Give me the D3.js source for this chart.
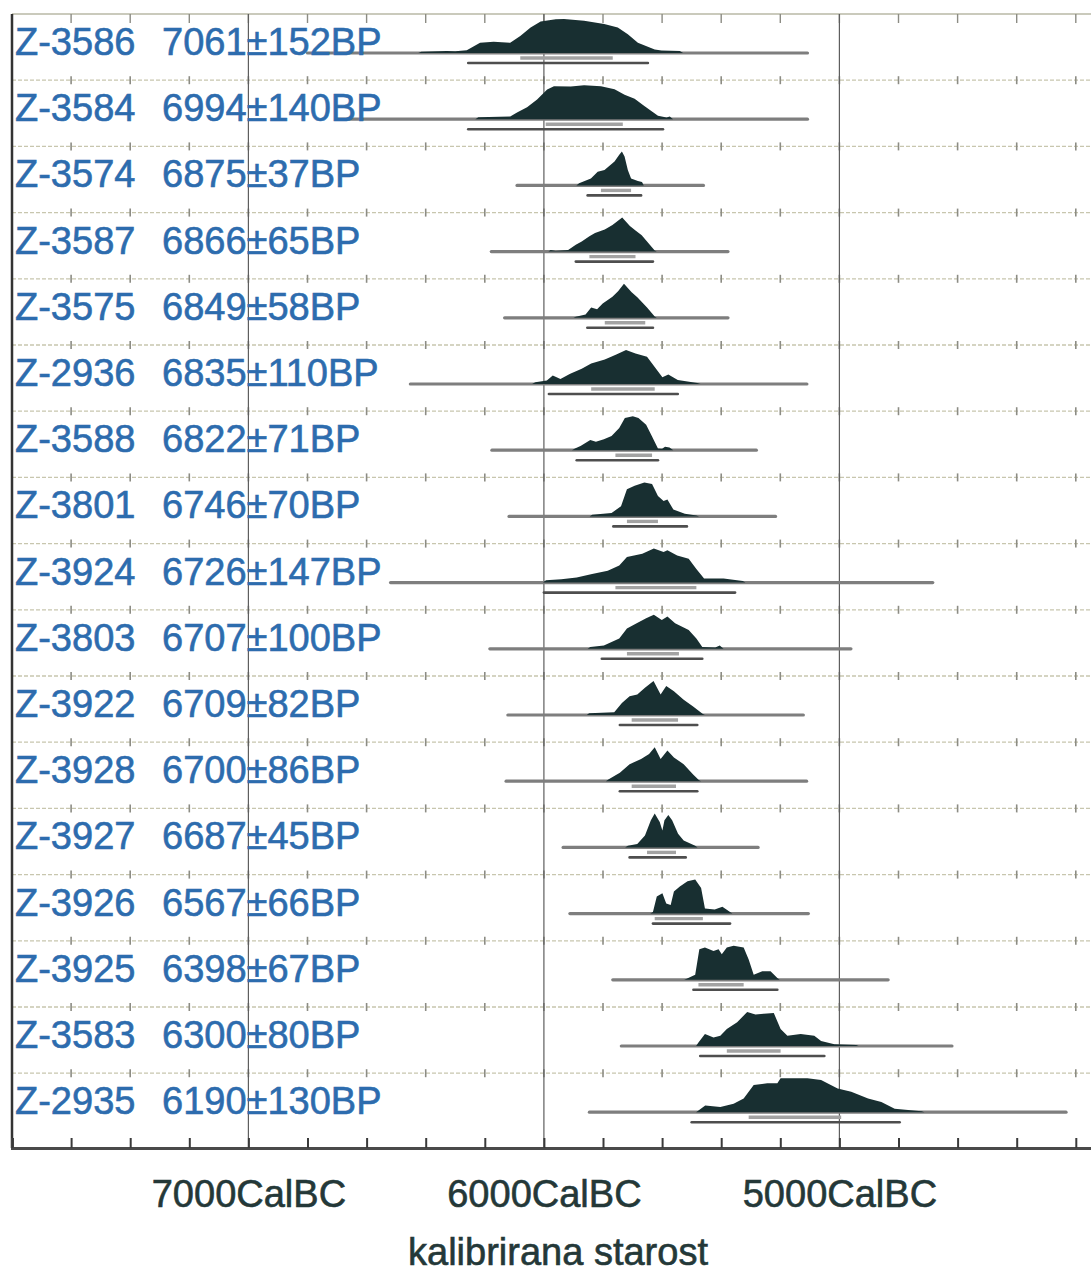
<!DOCTYPE html>
<html>
<head>
<meta charset="utf-8">
<script src="https://cdn.jsdelivr.net/npm/d3@7"></script>
<style>
  body { margin: 0; background: #fff; }
  svg { display: block; font-family: "Liberation Sans", Arial, sans-serif; }
</style>
</head>
<body>
<script>
// sample ids and radiocarbon ages
const labIds = ["Z-3586","Z-3584","Z-3574","Z-3587","Z-3575","Z-2936","Z-3588","Z-3801","Z-3924",
                "Z-3803","Z-3922","Z-3928","Z-3927","Z-3926","Z-3925","Z-3583","Z-2935"];
const bpAges = [7061,6994,6875,6866,6849,6835,6822,6746,6726,6707,6709,6700,6687,6567,6398,6300,6190];
const bpErrors = [152,140,37,65,58,110,71,70,147,100,82,86,45,66,67,80,130];

// full extent of the calibrated baseline (cal BC)
const plotSpans = [[6800,5108],[6702,5108],[6091,5460],[6178,5377],[6133,5377],[6452,5110],[6176,5281],
                   [6118,5216],[6519,4684],[6183,4961],[6122,5122],[6128,5111],[5935,5275],[5912,5105],
                   [5767,4835],[5738,4619],[5846,4233]];
// 68.2% and 95.4% ranges (cal BC)
const range68 = [[6080,5767],[5994,5733],[5807,5705],[5846,5690],[5794,5657],[5840,5625],[5758,5634],
                 [5719,5614],[5758,5484],[5719,5543],[5703,5546],[5703,5553],[5651,5553],[5625,5462],
                 [5477,5324],[5381,5199],[5307,4994]];
const range95 = [[6256,5648],[6256,5597],[5852,5671],[5892,5631],[5853,5631],[5983,5547],[5889,5614],
                 [5765,5516],[6000,5353],[5804,5464],[5743,5481],[5743,5481],[5710,5520],[5631,5370],
                 [5494,5210],[5471,5051],[5500,4796]];

// probability distributions, [year calBC, relative probability]
const dens3586 = [[6425,0],[6415,0.04],[6329,0.06],[6300,0.05],[6261,0.08],[6216,0.3],[6170,0.33],[6114,0.3],[6080,0.5],[6045,0.75],[6011,0.93],[5960,0.99],[5932,1.0],[5864,0.95],[5796,0.85],[5750,0.75],[5716,0.55],[5682,0.3],[5625,0.1],[5602,0.07],[5540,0.06],[5529,0]];
const dens3584 = [[6232,0],[6222,0.06],[6114,0.08],[6091,0.2],[6057,0.35],[6023,0.58],[5989,0.87],[5966,0.97],[5909,0.96],[5864,1.0],[5807,0.97],[5761,0.88],[5727,0.72],[5693,0.6],[5659,0.38],[5614,0.1],[5585,0.05],[5574,0.08],[5563,0]];
const dens3574 = [[5890,0],[5881,0.06],[5841,0.2],[5818,0.4],[5795,0.45],[5761,0.7],[5745,0.9],[5736,1.0],[5727,0.85],[5716,0.45],[5705,0.2],[5682,0.13],[5668,0.1],[5662,0]];
const dens3587 = [[5985,0],[5977,0.05],[5960,0.02],[5918,0.05],[5892,0.2],[5872,0.3],[5846,0.45],[5827,0.55],[5794,0.65],[5768,0.78],[5735,1.0],[5709,0.75],[5690,0.62],[5669,0.48],[5651,0.3],[5625,0.03],[5618,0]];
const dens3575 = [[5900,0],[5892,0.03],[5859,0.1],[5840,0.3],[5820,0.25],[5801,0.42],[5768,0.62],[5749,0.78],[5729,1.0],[5703,0.75],[5683,0.6],[5651,0.3],[5625,0.04],[5618,0]];
const dens2936 = [[6040,0],[6029,0.05],[5990,0.1],[5970,0.25],[5944,0.15],[5911,0.3],[5872,0.45],[5840,0.6],[5794,0.72],[5755,0.87],[5722,1.0],[5690,0.9],[5651,0.8],[5625,0.5],[5599,0.2],[5579,0.28],[5547,0.12],[5481,0.03],[5470,0]];
const dens3588 = [[5905,0],[5895,0.05],[5876,0.12],[5843,0.3],[5824,0.25],[5797,0.32],[5771,0.42],[5745,0.65],[5726,0.95],[5699,1.0],[5680,0.95],[5654,0.75],[5634,0.4],[5614,0.05],[5600,0.04],[5590,0.1],[5575,0.08],[5562,0]];
const dens3801 = [[5845,0],[5837,0.05],[5771,0.1],[5739,0.3],[5719,0.8],[5693,0.9],[5660,1.0],[5634,0.95],[5614,0.6],[5595,0.45],[5582,0.5],[5562,0.2],[5523,0.08],[5484,0.03],[5475,0]];
const dens3924 = [[6003,0],[5993,0.07],[5941,0.1],[5889,0.15],[5837,0.25],[5784,0.35],[5745,0.5],[5719,0.75],[5667,0.85],[5628,1.0],[5595,0.9],[5582,0.95],[5549,0.8],[5510,0.7],[5484,0.4],[5458,0.12],[5392,0.12],[5327,0.05],[5318,0]];
const dens3803 = [[5852,0],[5843,0.05],[5797,0.1],[5745,0.3],[5719,0.6],[5686,0.75],[5654,0.9],[5628,1.0],[5601,0.85],[5582,0.95],[5556,0.75],[5510,0.55],[5484,0.3],[5464,0.05],[5420,0.04],[5405,0.1],[5392,0]];
const dens3922 = [[5855,0],[5847,0.05],[5762,0.08],[5736,0.35],[5710,0.55],[5684,0.6],[5658,0.8],[5629,1.0],[5605,0.6],[5586,0.85],[5560,0.7],[5527,0.45],[5495,0.25],[5462,0.03],[5455,0]];
const dens3928 = [[5790,0],[5782,0.05],[5743,0.25],[5710,0.5],[5671,0.65],[5644,0.8],[5625,1.0],[5605,0.65],[5582,0.9],[5560,0.7],[5527,0.5],[5495,0.2],[5475,0.03],[5468,0]];
const dens3927 = [[5725,0],[5716,0.05],[5684,0.1],[5658,0.35],[5638,0.8],[5625,1.0],[5608,0.75],[5599,0.5],[5592,0.8],[5579,0.95],[5566,0.8],[5546,0.4],[5527,0.2],[5488,0.05],[5480,0]];
const dens3926 = [[5640,0],[5631,0.05],[5618,0.5],[5599,0.6],[5586,0.3],[5571,0.25],[5560,0.65],[5540,0.8],[5514,0.95],[5488,1.0],[5468,0.75],[5455,0.15],[5422,0.12],[5396,0.2],[5370,0.05],[5362,0]];
const dens3925 = [[5525,0],[5517,0.03],[5488,0.15],[5474,0.9],[5455,0.95],[5426,0.85],[5409,0.9],[5398,0.75],[5381,0.95],[5358,1.0],[5324,0.95],[5307,0.6],[5290,0.15],[5261,0.25],[5233,0.25],[5210,0.05],[5202,0]];
const dens3583 = [[5485,0],[5477,0.1],[5455,0.35],[5426,0.25],[5403,0.3],[5381,0.5],[5346,0.7],[5312,1.0],[5284,0.93],[5256,0.95],[5222,0.97],[5199,0.5],[5176,0.3],[5131,0.35],[5085,0.3],[5062,0.15],[5017,0.05],[4943,0.03],[4935,0]];
const dens2935 = [[5485,0],[5477,0.05],[5454,0.2],[5403,0.15],[5358,0.25],[5324,0.4],[5290,0.8],[5244,0.85],[5210,0.85],[5199,1.0],[5108,1.0],[5062,0.95],[5006,0.7],[4960,0.6],[4903,0.4],[4858,0.3],[4813,0.1],[4722,0.03],[4712,0]];
const densities = [dens3586,dens3584,dens3574,dens3587,dens3575,dens2936,dens3588,dens3801,dens3924,
                   dens3803,dens3922,dens3928,dens3927,dens3926,dens3925,dens3583,dens2935];

// axis
const majorYears = [7000, 6000, 5000];
const tickLabels = ["7000CalBC", "6000CalBC", "5000CalBC"];
const axisTitle = "kalibrirana starost";

const W = 1091, H = 1275;
const plotTop = 14, rowH = 66.2, axisY = 1148, plotLeft = 12;

const svg = d3.select("body").append("svg").attr("width", W).attr("height", H);

const x = d3.scaleLinear().domain([7800, 4000]).range([plotLeft, plotLeft + 3800 * 0.2955]);
const row = d3.scaleBand().domain(labIds).range([plotTop, plotTop + labIds.length * rowH]);
const h = d3.scaleLinear().domain([0, 1]).range([0, 34]);
const minorYears = d3.range(7800, 3999, -200);

// horizontal separators with tick crosses
const grid = svg.append("g");
labIds.slice(1).forEach(id => {
  const yy = row(id);
  grid.append("line").attr("x1", plotLeft).attr("x2", W).attr("y1", yy).attr("y2", yy)
    .attr("stroke", "#c8c6ae").attr("stroke-width", 1.3).attr("stroke-dasharray", "4,2");
  grid.selectAll(null).data(minorYears).enter().append("line")
    .attr("x1", d => x(d)).attr("x2", d => x(d))
    .attr("y1", yy - 4).attr("y2", yy + 4)
    .attr("stroke", "#8c8c84").attr("stroke-width", 1.6);
});

// top border
grid.append("line").attr("x1", plotLeft).attr("x2", W).attr("y1", plotTop).attr("y2", plotTop)
  .attr("stroke", "#b9b8a6").attr("stroke-width", 1.6);
grid.selectAll(null).data(minorYears).enter().append("line")
  .attr("x1", d => x(d)).attr("x2", d => x(d)).attr("y1", plotTop).attr("y2", plotTop + 9)
  .attr("stroke", "#8c8c84").attr("stroke-width", 1.4);

// major verticals
grid.selectAll(null).data(majorYears).enter().append("line")
  .attr("x1", d => x(d)).attr("x2", d => x(d)).attr("y1", plotTop).attr("y2", axisY)
  .attr("stroke", "#5e5e5e").attr("stroke-width", 1.2);

// rows
const area = d3.area().x(d => x(d[0])).y0(0).y1(d => -h(d[1]));
labIds.forEach((id, i) => {
  const base = row(id) + 39;
  const g = svg.append("g");
  g.append("line").attr("x1", x(plotSpans[i][0])).attr("x2", x(plotSpans[i][1]))
    .attr("y1", base).attr("y2", base)
    .attr("stroke", "#7e7e7e").attr("stroke-width", 3.2).attr("stroke-linecap", "round");
  g.append("path").datum(densities[i]).attr("d", area)
    .attr("transform", `translate(0,${base})`).attr("fill", "#182f31");
  g.append("line").attr("x1", x(range68[i][0])).attr("x2", x(range68[i][1]))
    .attr("y1", base + 5).attr("y2", base + 5)
    .attr("stroke", "#a3a3a3").attr("stroke-width", 3.4);
  g.append("line").attr("x1", x(range95[i][0])).attr("x2", x(range95[i][1]))
    .attr("y1", base + 10).attr("y2", base + 10)
    .attr("stroke", "#4e4e4e").attr("stroke-width", 2.6).attr("stroke-linecap", "round");
  const t = row(id) + 41;
  g.append("text").attr("x", 15).attr("y", t).attr("font-size", 38).attr("fill", "#2d6cae")
    .attr("stroke", "#2d6cae").attr("stroke-width", 0.6).text(id);
  g.append("text").attr("x", 162).attr("y", t).attr("font-size", 38).attr("fill", "#2d6cae")
    .attr("stroke", "#2d6cae").attr("stroke-width", 0.6)
    .text(bpAges[i] + "±" + bpErrors[i] + "BP");
});

// left border
svg.append("line").attr("x1", plotLeft).attr("x2", plotLeft).attr("y1", plotTop).attr("y2", axisY)
  .attr("stroke", "#333").attr("stroke-width", 2.5);

// bottom axis
const ax = svg.append("g").attr("transform", `translate(0,${axisY})`)
  .call(d3.axisBottom(x).tickValues(minorYears).tickSize(-10).tickFormat(""));
ax.select(".domain").attr("stroke", "#4a4a4a").attr("stroke-width", 3);
ax.selectAll(".tick line").attr("stroke", "#3a3a3a").attr("stroke-width", 2);

const lab = svg.append("g").attr("transform", `translate(0,${axisY})`)
  .call(d3.axisBottom(x).tickValues(majorYears).tickSize(0).tickFormat((d, i) => tickLabels[i]));
lab.select(".domain").remove();
lab.selectAll("text").attr("y", 59).attr("dy", 0).attr("font-size", 38)
  .attr("font-family", "'Liberation Sans', Arial, sans-serif").attr("fill", "#243838")
  .attr("stroke", "#243838").attr("stroke-width", 0.6);

svg.append("text").attr("x", 558).attr("y", 1265).attr("text-anchor", "middle")
  .attr("font-size", 38).attr("fill", "#243838").attr("stroke", "#243838").attr("stroke-width", 0.6)
  .text(axisTitle);
</script>
</body>
</html>
